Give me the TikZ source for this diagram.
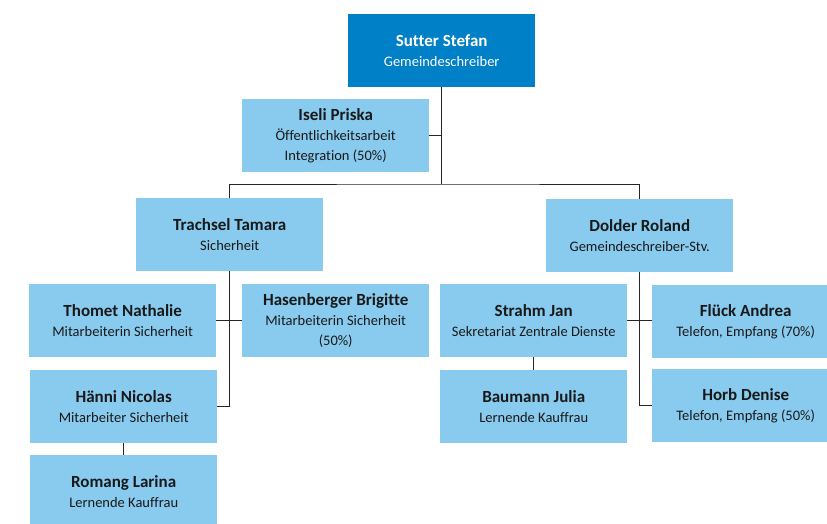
\documentclass[tikz,border=0pt]{standalone}
\usepackage{fontspec}
\setmainfont{Carlito}[Ligatures=NoCommon]
\usepackage{tikz}

\definecolor{chefblue}{HTML}{0080C6}
\definecolor{staffblue}{HTML}{88CBEF}
\definecolor{lineblack}{HTML}{262626}

\begin{document}
\begin{tikzpicture}[x=1pt,y=-1pt,
	box/.style={fill=staffblue,text=black!90,anchor=north west,minimum width=187pt,minimum height=73pt,inner sep=0pt,align=center,font=\fontsize{14.5}{20}\selectfont},
	chef/.style={box,fill=chefblue,text=white},
	link/.style={draw=lineblack,line width=0.9pt}]

		\clip (0,0) rectangle (827,523);

		\node[chef] (sutter) at (348,14) {{\fontsize{17}{20}\selectfont\bfseries Sutter Stefan}\\Gemeindeschreiber};
		\node[box] (iseli) at (242,99) {{\fontsize{17}{20}\selectfont\bfseries Iseli Priska}\\Öffentlichkeitsarbeit\\Integration (50\%)};
		\coordinate (bar) at (440,184);

		\node[box] (trachsel) at (136,198) {{\fontsize{17}{20}\selectfont\bfseries Trachsel Tamara}\\Sicherheit};
		\node[box] (thomet) at (29,284) {{\fontsize{17}{20}\selectfont\bfseries Thomet Nathalie}\\Mitarbeiterin Sicherheit};
		\node[box] (hasenberger) at (242,284) {{\fontsize{17}{20}\selectfont\bfseries Hasenberger Brigitte}\\Mitarbeiterin Sicherheit\\(50\%)};
		\node[box] (haenni) at (30,370) {{\fontsize{17}{20}\selectfont\bfseries Hänni Nicolas}\\Mitarbeiter Sicherheit};
		\node[box] (romang) at (30,455) {{\fontsize{17}{20}\selectfont\bfseries Romang Larina}\\Lernende Kauffrau};

		\node[box] (dolder) at (546,199) {{\fontsize{17}{20}\selectfont\bfseries Dolder Roland}\\Gemeindeschreiber-Stv.};
		\node[box] (strahm) at (440,284) {{\fontsize{17}{20}\selectfont\bfseries Strahm Jan}\\Sekretariat Zentrale Dienste};
		\node[box] (baumann) at (440,370) {{\fontsize{17}{20}\selectfont\bfseries Baumann Julia}\\Lernende Kauffrau};
		\node[box] (flueck) at (652,285) {{\fontsize{17}{20}\selectfont\bfseries Flück Andrea}\\Telefon, Empfang (70\%)};
		\node[box] (horb) at (652,369) {{\fontsize{17}{20}\selectfont\bfseries Horb Denise}\\Telefon, Empfang (50\%)};

		\draw[link] (sutter.south) -- (sutter.south |- bar);
		\draw[link] (iseli.east) -- (iseli.east -| sutter.south);
		\draw[link] (trachsel.north) |- (sutter.south |- bar) -| (dolder.north);

		\draw[link] (trachsel.south) |- (haenni.east);
		\draw[link] (thomet.east) -- (hasenberger.west);
		\draw[link] (haenni.south) -- (romang.north);

		\draw[link] (dolder.south) |- (horb.west);
		\draw[link] (strahm.east) -- (strahm.east -| flueck.west);
		\draw[link] (strahm.south) -- (baumann.north);

	\end{tikzpicture}
\end{document}
